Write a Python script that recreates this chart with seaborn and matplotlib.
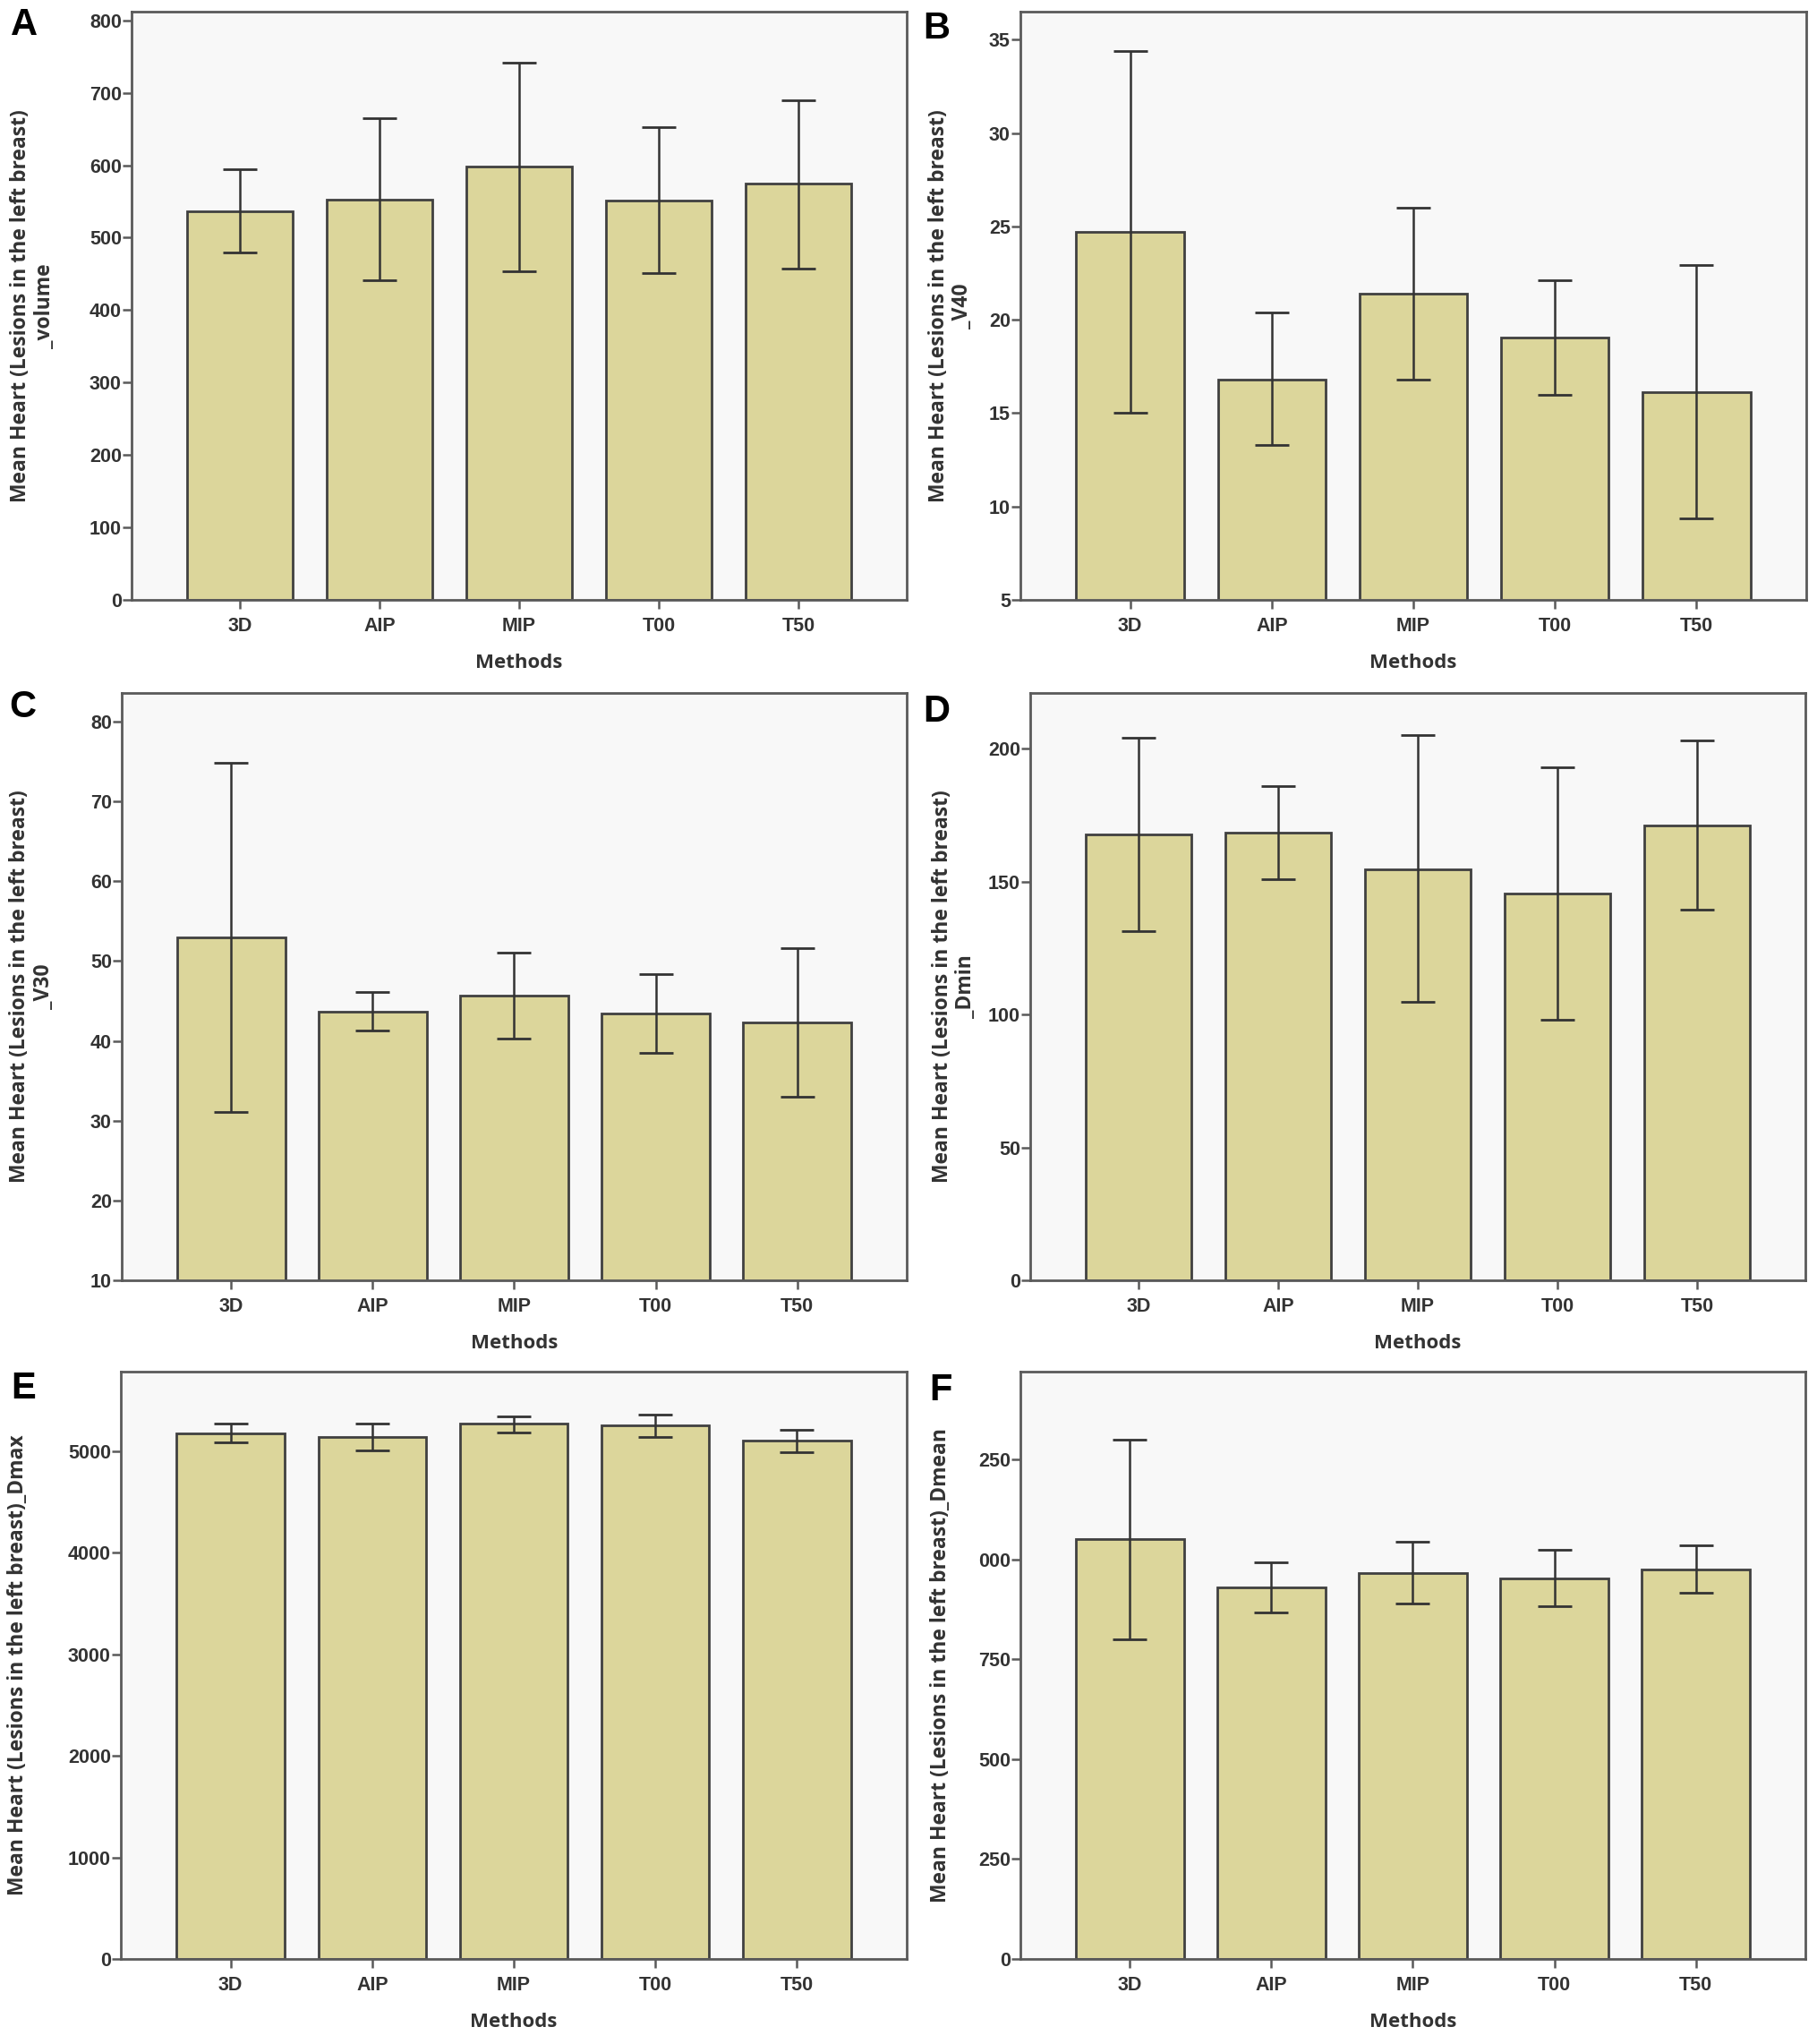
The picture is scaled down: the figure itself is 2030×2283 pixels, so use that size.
import numpy as np
import matplotlib
matplotlib.use('Agg')
import matplotlib.pyplot as plt
import seaborn as sns

methods = ['3D', 'AIP', 'MIP', 'T00', 'T50']

# mean and error-bar ends
volume_mean = [537, 553, 598, 551, 575]
volume_low = [480, 441, 454, 451, 457]
volume_high = [594, 665, 742, 652, 690]

v40_mean = [24.7, 16.8, 21.4, 19.05, 16.1]
v40_low = [15.0, 13.3, 16.8, 16.0, 9.35]
v40_high = [34.4, 20.4, 26.0, 22.1, 22.95]

v30_mean = [53.0, 43.7, 45.7, 43.4, 42.3]
v30_low = [31.1, 41.3, 40.3, 38.5, 33.0]
v30_high = [74.9, 46.1, 51.1, 48.4, 51.6]

dmin_mean = [167.7, 168.5, 154.8, 145.5, 171.2]
dmin_low = [131.5, 151.0, 104.8, 98.2, 139.4]
dmin_high = [204.1, 185.9, 205.0, 193.0, 203.0]

dmax_mean = [5170, 5135, 5265, 5248, 5098]
dmax_low = [5082, 5004, 5180, 5137, 4985]
dmax_high = [5266, 5266, 5343, 5356, 5210]

dmean_mean = [1050, 930, 966, 953, 975]
dmean_low = [801, 867, 890, 883, 916]
dmean_high = [1299, 992, 1044, 1023, 1035]

ylabel_base = 'Mean Heart (Lesions in the left breast)'

BAR = '#DCD69B'
EDGE = '#404040'
SPINE = '#5a5a5a'
TICK_FONT = ['Liberation Sans', 'DejaVu Sans']
LABEL_FONT = ['Open Sans', 'DejaVu Sans']

sns.set_theme(style='white')
plt.rcParams['font.family'] = LABEL_FONT

W, H = 2031, 2283
fig = plt.figure(figsize=(W / 100, H / 100), dpi=100)
fig.patch.set_facecolor('white')


def rect(left, top, right, bottom):
    return [left / W, 1 - bottom / H, (right - left) / W, (bottom - top) / H]


def panel(r, letter, letter_xy, mean, low, high, ylabel, ylim, yticks, ylab_x, yticklabels=None):
    ax = fig.add_axes(r)
    sns.barplot(x=methods, y=mean, color=BAR, saturation=1, edgecolor=EDGE,
                linewidth=2.0, width=0.76, errorbar=None, ax=ax)
    m = np.array(mean, dtype=float)
    err = [m - np.array(low), np.array(high) - m]
    ax.errorbar(np.arange(len(methods)), m, yerr=err, fmt='none', ecolor='#333333',
                elinewidth=1.8, capsize=13.5, capthick=2.0, zorder=5)
    ax.set_facecolor('#F8F8F8')
    ax.set_xlim(-0.775, len(methods) - 0.225)
    ax.set_ylim(*ylim)
    ax.set_yticks(yticks)
    if yticklabels is not None:
        ax.set_yticklabels(yticklabels)
    for s in ax.spines.values():
        s.set_visible(True)
        s.set_color(SPINE)
        s.set_linewidth(2)
    ax.tick_params(axis='both', direction='out', length=7, width=1.8, color=SPINE,
                   labelsize=15.5, labelcolor='#333333', left=True, bottom=True)
    ax.tick_params(axis='y', pad=1)
    ax.tick_params(axis='x', pad=7)
    for t in ax.get_xticklabels() + ax.get_yticklabels():
        t.set_family(TICK_FONT)
        t.set_fontweight('bold')
    ax.set_xlabel('Methods', fontsize=16, fontweight='bold', color='#333333', labelpad=14)
    ax.set_ylabel(ylabel, fontsize=16.5, fontweight='bold', color='#333333', linespacing=1.15)
    ax.yaxis.set_label_coords(ylab_x, 0.5)
    fig.text(letter_xy[0] / W, 1 - letter_xy[1] / H, letter, ha='left', va='top',
             fontsize=30, fontweight='bold', family=TICK_FONT, color='black')
    return ax


panel(rect(147, 13, 1013, 670), 'A', (12, 8), volume_mean, volume_low, volume_high,
      ylabel_base + '\n_volume', (0, 812), np.arange(0, 801, 100), -0.098)
panel(rect(1140, 13, 2018, 670), 'B', (1031, 12), v40_mean, v40_low, v40_high,
      ylabel_base + '\n_V40', (5, 36.5), np.arange(5, 36, 5), -0.060)
panel(rect(136, 774, 1013, 1430), 'C', (10, 770), v30_mean, v30_low, v30_high,
      ylabel_base + '\n_V30', (10, 83.6), np.arange(10, 81, 10), -0.0855)
panel(rect(1151, 774, 2017, 1430), 'D', (1031, 775), dmin_mean, dmin_low, dmin_high,
      ylabel_base + '\n_Dmin', (0, 221), np.arange(0, 201, 50), -0.069)
panel(rect(135, 1532, 1013, 2188), 'E', (12, 1531), dmax_mean, dmax_low, dmax_high,
      ylabel_base + '_Dmax', (0, 5780), np.arange(0, 5001, 1000), -0.117)
panel(rect(1140, 1532, 2017, 2188), 'F', (1038, 1533), dmean_mean, dmean_low, dmean_high,
      ylabel_base + '_Dmean', (0, 1470), np.arange(0, 1251, 250), -0.088,
      yticklabels=['0', '250', '500', '750', '000', '250'])

plt.savefig('out.png', dpi=100, facecolor='white')
